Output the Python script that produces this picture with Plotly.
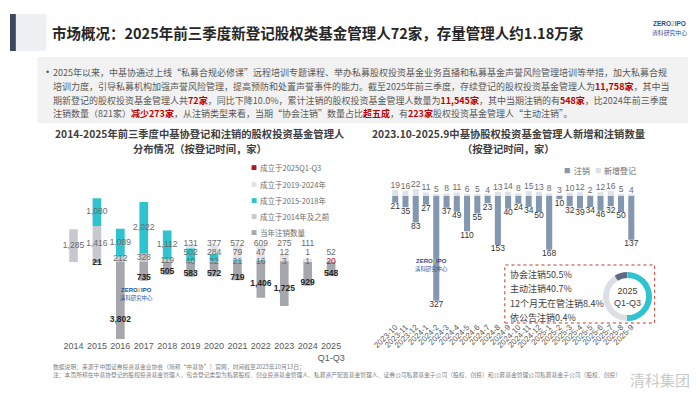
import plotly.graph_objects as go

W, H = 700, 394
def px(x): return x / W
def py(y): return 1 - y / H

CJK = "Noto Sans CJK SC"
NUM = "Liberation Sans, Noto Sans CJK SC"

# ---------------- left chart data ----------------
years = ["2014", "2015", "2016", "2017", "2018", "2019", "2020", "2021", "2022", "2023", "2024", "2025"]
year_ticks = ["2014", "2015", "2016", "2017", "2018", "2019", "2020", "2021", "2022", "2023", "2024", "2025<br>Q1-Q3"]
est_2025 = [None, None, None, None, None, None, None, None, None, None, None, 20]
est_2019_2024 = [None, None, None, None, None, 131, 377, 572, 609, 275, 111, 52]
est_2015_2018 = [None, 1080, 1089, 2022, 1112, 502, 284, 79, 47, 12, 1, None]
est_2014_before = [1285, 1416, 212, 328, 119, 40, 32, 21, 16, 3, 1, None]
cancelled_year = [None, 21, 3802, 735, 505, 583, 572, 719, 1406, 1725, 929, 548]
left_names = ["成立于2025Q1-Q3", "成立于2019-2024年", "成立于2015-2018年", "成立于2014年及之前", "当年注销数量"]

# ---------------- right chart data ----------------
months = ["2023-10", "2023-11", "2023-12", "2024-1", "2024-2", "2024-3", "2024-4", "2024-5",
          "2024-6", "2024-7", "2024-8", "2024-9", "2024-10", "2024-11", "2024-12", "2025-1",
          "2025-2", "2025-3", "2025-4", "2025-5", "2025-6", "2025-7", "2025-8", "2025-9"]
new_reg = [19, 16, 22, 11, 5, 8, 11, 6, 5, 4, 13, 14, 8, 15, 13, 8, 3, 10, 12, 2, 12, 16, 5, 4]
cancel_month = [21, 35, 83, 27, 327, 37, 49, 110, 55, 23, 153, 40, 24, 34, 50, 168, 10, 32, 39, 34, 46, 32, 50, 137]
right_names = ["注销", "新增登记"]
cancel_types = ["协会注销", "主动注销", "12个月无在管注销", "依公告注销"]
cancel_share = [50.5, 40.7, 8.4, 0.4]

# ---------------- colours ----------------
C_RED = "#b3141c"
C_LIGHT = "#e2e3e8"
C_CYAN = "#2ec3cf"
C_GRAY = "#c8c9ce"
C_CANCEL = "#a6a7ac"
C_SLATE = "#8497b0"
C_NEW = "#dde1e8"
C_TXT = "#595959"
left_colors = [C_RED, C_LIGHT, C_CYAN, C_GRAY, C_CANCEL]
right_colors = [C_SLATE, C_NEW]

fig = go.Figure()

# ---- left stacked bars (stack order bottom -> top) ----
stack = [
    (left_names[0], est_2025, C_RED),
    (left_names[3], est_2014_before, C_GRAY),
    (left_names[2], est_2015_2018, C_CYAN),
    (left_names[1], est_2019_2024, C_LIGHT),
]
for name, vals, col in stack:
    fig.add_trace(go.Bar(x=years, y=vals, name=name, marker=dict(color=col, line=dict(width=0)),
                         width=0.37, showlegend=False, xaxis="x", yaxis="y",
                         hoverinfo="x+y+name"))
fig.add_trace(go.Bar(x=years, y=[-v if v else None for v in cancelled_year], name=left_names[4],
                     marker=dict(color=C_CANCEL, line=dict(width=0)), width=0.37,
                     showlegend=False, xaxis="x", yaxis="y",
                     customdata=cancelled_year, hovertemplate="%{x}: %{customdata}<extra></extra>"))

# ---- left labels (simple anti-collision layout computed from the data) ----
GAP = 360
label_y = {name: [None] * len(years) for name, _, _ in stack}
for i in range(len(years)):
    base, prev = 0, None
    for name, vals, _ in stack:
        v = vals[i]
        if v is None:
            continue
        mid = base + v / 2
        if prev is None:
            y = mid if v >= 100 else 0
        else:
            y = max(mid, prev + GAP)
        label_y[name][i] = y
        prev = y
        base += v
for name, vals, col in stack:
    fig.add_trace(go.Scatter(
        x=years, y=label_y[name], mode="text",
        text=[f"{v:,}" if v is not None else "" for v in vals],
        textposition="middle center",
        textfont=dict(size=8.5, color=(C_RED if col == C_RED else "#6b6b6b"), family=NUM),
        showlegend=False, hoverinfo="skip", cliponaxis=False, xaxis="x", yaxis="y"))

def cancel_label_y(v):
    if v >= 1000:
        return -0.6 * v
    if v > 300:
        return -(v - 100)
    return -v

fig.add_trace(go.Scatter(
    x=years, y=[cancel_label_y(v) if v else None for v in cancelled_year],
    mode="text", text=[f"<b>{v:,}</b>" if v else "" for v in cancelled_year],
    textposition="middle center", textfont=dict(size=8.5, color="#262626", family=NUM),
    showlegend=False, hoverinfo="skip", cliponaxis=False, xaxis="x", yaxis="y"))

# ---- right bars ----
fig.add_trace(go.Bar(x=months, y=[-v for v in cancel_month], name=right_names[0],
                     marker=dict(color=C_SLATE, line=dict(width=0)), width=0.59,
                     showlegend=False, xaxis="x2", yaxis="y2",
                     customdata=cancel_month, hovertemplate="%{x}: %{customdata}<extra></extra>"))
fig.add_trace(go.Bar(x=months, y=new_reg, name=right_names[1],
                     marker=dict(color=C_NEW, line=dict(width=0)), width=0.59,
                     showlegend=False, xaxis="x2", yaxis="y2"))
fig.add_trace(go.Scatter(x=months, y=new_reg, mode="text", text=[str(v) for v in new_reg],
                         textposition="top center", textfont=dict(size=8.5, color="#6b6b6b", family=NUM),
                         showlegend=False, hoverinfo="skip", cliponaxis=False, xaxis="x2", yaxis="y2"))
fig.add_trace(go.Scatter(x=months, y=[-v for v in cancel_month], mode="text",
                         text=[str(v) for v in cancel_month], textposition="bottom center",
                         textfont=dict(size=8.5, color="#333333", family=NUM),
                         showlegend=False, hoverinfo="skip", cliponaxis=False, xaxis="x2", yaxis="y2"))

# ---- donut ----
fig.add_trace(go.Pie(labels=cancel_types, values=cancel_share, hole=0.76, sort=False,
                     direction="clockwise", rotation=0, textinfo="none", showlegend=False,
                     marker=dict(colors=[C_CYAN, "#dcdfe4", "#5d6b85", "#9aa3b5"], line=dict(width=0)),
                     domain=dict(x=[px(601.5), px(651.5)], y=[py(321), py(272)])))

# ---------------- shapes ----------------
shapes = [
    dict(type="rect", xref="paper", yref="paper", x0=px(0), x1=px(6), y0=py(51), y1=py(14),
         fillcolor="#3b4861", line=dict(width=0), layer="below"),
    dict(type="rect", xref="paper", yref="paper", x0=px(6), x1=px(37), y0=py(51), y1=py(14),
         fillcolor="#eef0f3", line=dict(width=0), layer="below"),
    dict(type="rect", xref="paper", yref="paper", x0=px(28), x1=px(688), y0=py(123), y1=py(57),
         fillcolor="#f2f2f2", line=dict(width=0), layer="below"),
    dict(type="rect", xref="paper", yref="paper", x0=px(502), x1=px(654), y0=py(323), y1=py(265),
         fillcolor="rgba(0,0,0,0)", line=dict(color="#c0392b", width=1, dash="dot")),
]

# ---------------- annotations ----------------
def R(s):
    return f"<span style='color:#c00000'><b>{s}</b></span>"

para = [
    "2025年以来，中基协通过上线“私募合规必修课”远程培训专题课程、举办私募股权投资基金业务直播和私募基金声誉风险管理培训等举措，加大私募合规",
    "培训力度，引导私募机构加强声誉风险管理，提高预防和处置声誉事件的能力。截至2025年前三季度，存续登记的股权投资基金管理人为" + R("11,758家") + "，其中当",
    "期新登记的股权投资基金管理人共" + R("72家") + "，同比下降10.0%，累计注销的股权投资基金管理人数量为" + R("11,545家") + "，其中当期注销的有" + R("548家") + "，比2024年前三季度",
    "注销数量（821家）" + R("减少273家") + "，从注销类型来看，当期“协会注销”数量占比" + R("超五成") + "，有" + R("223家") + "股权投资基金管理人“主动注销”。",
]
para_y = [72, 86, 100, 114]

ann = []
def A(text, x, y, size, color="#404040", xanchor="left", family=CJK, **kw):
    ann.append(dict(text=text, x=px(x), y=py(y), xref="paper", yref="paper", xanchor=xanchor,
                    yanchor="middle", showarrow=False, font=dict(size=size, color=color, family=family), **kw))

A("<b>市场概况：2025年前三季度新登记股权类基金管理人72家，存量管理人约1.18万家</b>", 41, 32, 14.5, "#262626")
A("•", 34, 72, 9, C_TXT, family="Liberation Sans")
for t, y in zip(para, para_y):
    A(t, 42, y, 9.0, C_TXT)

A("<b>2014-2025年前三季度中基协登记和注销的股权投资基金管理人</b>", 193, 133.5, 10.3, "#404040", xanchor="center")
A("<b>分布情况（按登记时间，家）</b>", 193, 148.5, 10.3, "#404040", xanchor="center")
A("<b>2023.10-2025.9中基协股权投资基金管理人新增和注销数量</b>", 506, 133.5, 10.3, "#404040", xanchor="center")
A("<b>（按登记时间，家）</b>", 506, 148.5, 10.3, "#404040", xanchor="center")

# legends (built from series names / colours)
for name, col, y in zip(left_names, left_colors, [168, 184, 200, 216, 232]):
    A("■", 248, y, 6, col, xanchor="center")
    A(name, 252, y, 7.5, "#6b6b6b")
for name, col, x in zip(right_names, right_colors, [566, 597]):
    A("■", x, 170, 6.5, col, xanchor="center")
    A(name, x + 4, 170, 8, "#6b6b6b")

A("2025<br>Q1-Q3", 626.5, 296.5, 9, "#404040", xanchor="center", family=NUM)
box_y = [274, 288.5, 303, 317]
for lab, val, y in zip(cancel_types, cancel_share, box_y):
    A(f"{lab}{val}%", 505, y, 9, "#404040")

# logos
def logo(x, y, s):
    A("<b>ZERO<span style='color:#f0b400'>2</span>IPO</b>", x, y, s, "#1f4e9c", xanchor="center", family=NUM)
    A("清科研究中心", x, y + s * 1.35, s * 0.9, "#1f4e9c", xanchor="center")
logo(669, 24, 6.5)
logo(128, 290, 6)
logo(428, 261, 6)

A("数据说明：来源于中国证券投资基金业协会（简称“中基协”）官网，时间截至2025年10月13日；<br>"
  "注：本页所称在中基协登记的股权投资基金管理人，包含登记类型为私募股权、创业投资基金管理人、私募资产配置基金管理人、证券公司私募基金子公司（股权、创投）和公募基金管理公司私募基金子公司（股权、创投）",
  42, 370.5, 5.8, "#7f7f7f", align="left")
A("清科集团", 659, 379, 15, "#c9c9c9", xanchor="center")

fig.update_layout(
    width=W, height=H, margin=dict(l=0, r=0, t=0, b=0),
    paper_bgcolor="white", plot_bgcolor="rgba(0,0,0,0)",
    barmode="relative", showlegend=False,
    font=dict(family=CJK, color=C_TXT),
    xaxis=dict(domain=[px(49.9), px(340.3)], anchor="y", type="category",
               tickmode="array", tickvals=years, ticktext=year_ticks, tickangle=0,
               tickfont=dict(size=9, color=C_TXT, family=NUM), showgrid=False, zeroline=False,
               showline=False, ticks=""),
    yaxis=dict(domain=[py(339), py(186)], anchor="x", range=[-3020, 2980], visible=False),
    xaxis2=dict(domain=[px(377.5), px(643.6)], anchor="y2", type="category",
                tickmode="array", tickvals=months, ticktext=months, tickangle=-45,
                tickfont=dict(size=8, color=C_TXT, family=NUM), showgrid=False, zeroline=False,
                showline=False, ticks=""),
    yaxis2=dict(domain=[py(320), py(180)], anchor="x2", range=[-387.5, 50], visible=False),
    shapes=shapes, annotations=ann,
)

fig.write_html("out.html", config={"displayModeBar": False},
               post_script="document.body.style.margin='0';document.body.style.padding='0';")
